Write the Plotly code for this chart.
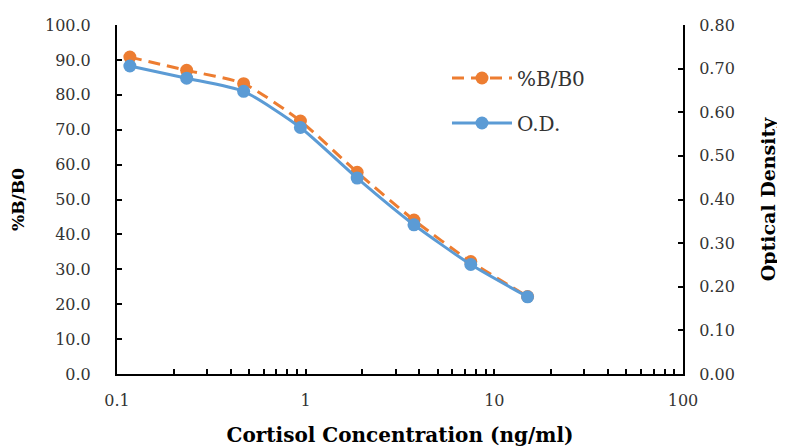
import plotly.graph_objects as go

conc = [0.117, 0.234, 0.469, 0.938, 1.875, 3.75, 7.5, 15.0]
pct_b_b0 = [90.8, 87.0, 83.2, 72.5, 57.8, 44.1, 32.2, 22.2]
od = [0.706, 0.678, 0.648, 0.565, 0.449, 0.342, 0.251, 0.177]

x_tickvals = [0.1, 1, 10, 100]
x_ticktext = ["0.1", "1", "10", "100"]
minor_vals = [m * d for d in (0.1, 1, 10) for m in range(2, 10)]

ORANGE = "#ED7D31"
BLUE = "#5B9BD5"
FONT = "DejaVu Serif"
TICKCOL = "#333333"

fig = go.Figure()
fig.add_trace(go.Scatter(
    x=conc, y=pct_b_b0, name="%B/B0", mode="lines+markers",
    line=dict(color=ORANGE, width=3, dash="12px,7px", shape="spline", smoothing=0.6),
    marker=dict(color=ORANGE, size=13), yaxis="y", legendgroup="a",
))
fig.add_trace(go.Scatter(
    x=conc, y=od, name="O.D.", mode="lines+markers",
    line=dict(color=BLUE, width=3, shape="spline", smoothing=0.6),
    marker=dict(color=BLUE, size=13), yaxis="y2", legendgroup="b",
))

axis_common = dict(showline=True, linecolor="black", linewidth=2, ticks="inside",
                   ticklen=5, tickwidth=2, tickcolor="black", showgrid=False, zeroline=False,
                   automargin=False,
                   tickfont=dict(family=FONT, size=16, color=TICKCOL))

fig.update_layout(
    width=777, height=439,
    margin=dict(l=109, r=102, t=17, b=73),
    paper_bgcolor="white", plot_bgcolor="white",
    font=dict(family=FONT, color="black"),
    xaxis=dict(type="log", range=[-1, 2], tickvals=x_tickvals, ticktext=x_ticktext,
               ticklabelstandoff=11,
               minor=dict(tickvals=minor_vals, ticks="inside", ticklen=5, tickwidth=1.5, tickcolor="black"),
               title=dict(text="<b>Cortisol Concentration (ng/ml)</b>", font=dict(family=FONT, size=20, color="black"), standoff=20),
               **axis_common),
    yaxis=dict(range=[0, 100], dtick=10, tick0=0, tickformat=".1f", ticklabelstandoff=21,
               title=dict(text="<b>%B/B0</b>", font=dict(family=FONT, size=17, color="black"), standoff=22),
               **axis_common),
    yaxis2=dict(range=[0, 0.8], dtick=0.1, tick0=0, tickformat=".2f", overlaying="y", side="right",
                ticklabelstandoff=11,
                title=dict(text="<b>Optical Density</b>", font=dict(family=FONT, size=19, color="black"), standoff=28),
                **axis_common),
    legend=dict(x=0.583, y=0.904, xanchor="left", yanchor="top", bgcolor="rgba(0,0,0,0)",
                font=dict(family=FONT, size=20, color=TICKCOL), tracegroupgap=16, itemwidth=60),
    showlegend=True,
)

fig.write_html("out.html")
